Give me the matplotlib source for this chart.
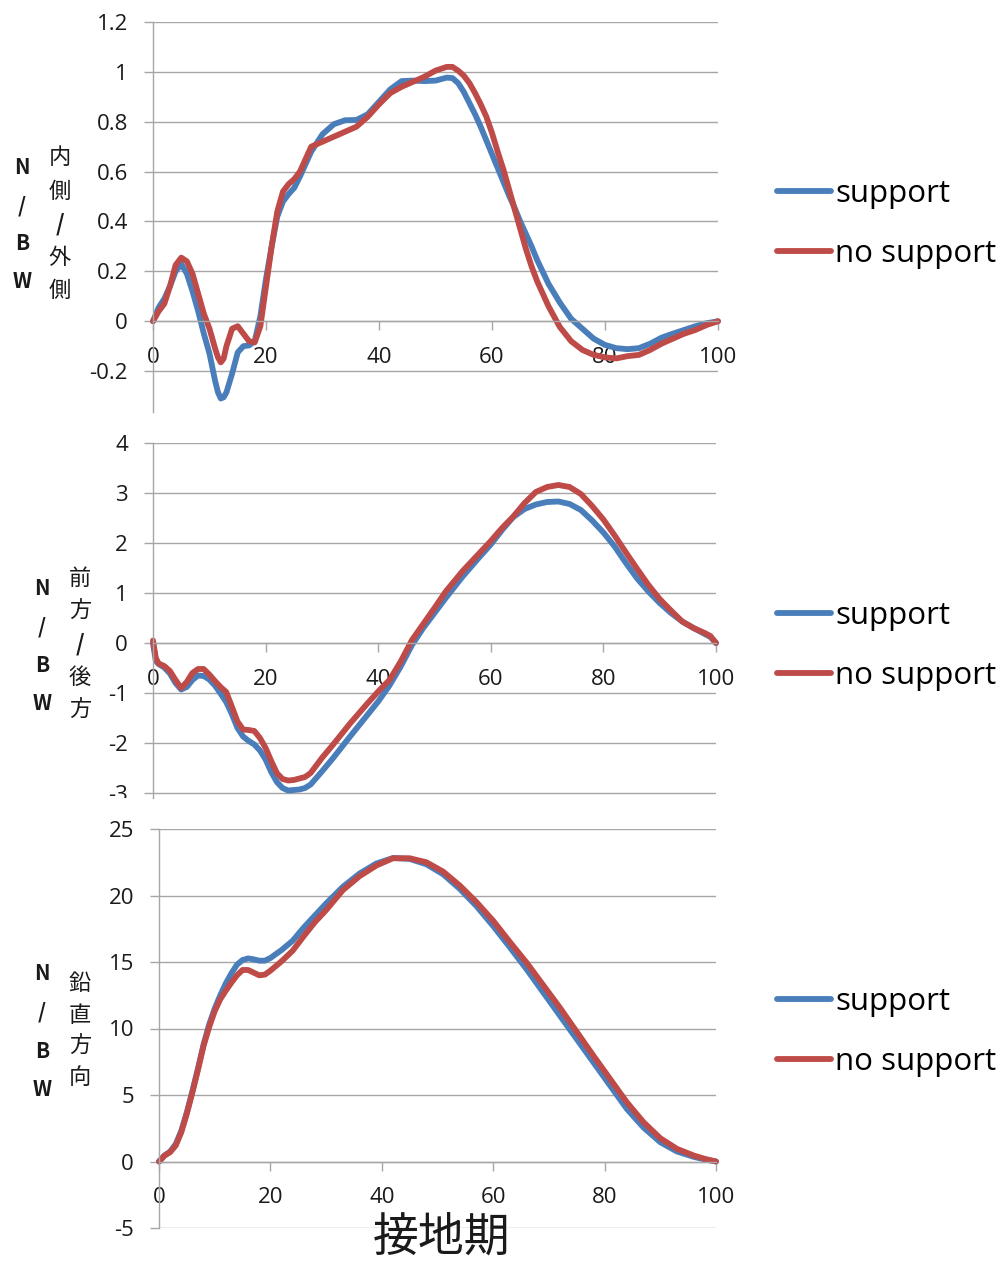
import matplotlib
matplotlib.use("Agg")
import matplotlib.pyplot as plt
from matplotlib.ticker import FixedLocator, FuncFormatter
from matplotlib.transforms import Bbox, TransformedBbox

plt.rcParams['font.family'] = ['Open Sans', 'Noto Sans CJK JP', 'DejaVu Sans']

W, H = 1008, 1264
BLUE = '#4A7EBB'
RED = '#BE4B48'
GRID = '#A6A6A6'
TXT = '#1a1a1a'

SERIES = ['support', 'no support']
X_TICKS = [0, 20, 40, 60, 80, 100]

# --- panel 1: medial / lateral (内側/外側) ---
ml_x = [0, 1, 2, 3, 4, 5, 6, 7, 8, 9, 10, 11, 11.5, 12, 12.5, 13, 14, 15, 16, 17,
        18, 19, 20, 21, 22, 23, 24, 25, 26, 28, 30, 32, 34, 36, 38, 40, 42, 44,
        46, 48, 50, 52, 53, 54, 55, 56, 57, 58, 59, 60, 61, 62, 63, 64, 65, 66,
        67, 68, 70, 72, 74, 76, 78, 80, 82, 84, 86, 88, 90, 92, 94, 96, 98, 100]
ml_support = [0.0, 0.055, 0.09, 0.14, 0.20, 0.23, 0.19, 0.12, 0.04, -0.05,
              -0.13, -0.24, -0.285, -0.31, -0.305, -0.285, -0.21, -0.125, -0.10, -0.097,
              -0.08, 0.02, 0.17, 0.30, 0.42, 0.48, 0.51, 0.535, 0.58, 0.68,
              0.75, 0.79, 0.806, 0.807, 0.83, 0.88, 0.93, 0.963, 0.965, 0.963,
              0.965, 0.977, 0.975, 0.955, 0.92, 0.875, 0.83, 0.78, 0.725, 0.67,
              0.615, 0.56, 0.505, 0.455, 0.40, 0.35, 0.30, 0.245, 0.15, 0.075,
              0.01, -0.03, -0.07, -0.095, -0.108, -0.112, -0.108, -0.09, -0.066, -0.05,
              -0.035, -0.02, -0.008, 0.0]
ml_nosupport = [0.0, 0.04, 0.07, 0.14, 0.225, 0.255, 0.24, 0.19, 0.11, 0.03,
                -0.03, -0.11, -0.145, -0.165, -0.15, -0.10, -0.03, -0.02, -0.05, -0.08,
                -0.085, -0.02, 0.14, 0.30, 0.44, 0.52, 0.55, 0.57, 0.60, 0.70,
                0.72, 0.74, 0.76, 0.78, 0.82, 0.87, 0.915, 0.94, 0.96, 0.98,
                1.005, 1.02, 1.02, 1.005, 0.985, 0.955, 0.915, 0.87, 0.82, 0.755,
                0.68, 0.61, 0.53, 0.45, 0.37, 0.29, 0.22, 0.16, 0.06, -0.023,
                -0.08, -0.115, -0.135, -0.145, -0.149, -0.14, -0.135, -0.115, -0.09, -0.07,
                -0.05, -0.035, -0.015, 0.0]
ml_yticks = [-0.2, 0, 0.2, 0.4, 0.6, 0.8, 1.0, 1.2]

# --- panel 2: anterior / posterior (前方/後方) ---
ap_x = [0, 0.5, 1, 2, 3, 4, 5, 6, 7, 8, 9, 10, 11, 12, 13, 14, 15, 16, 17, 18,
        19, 20, 21, 22, 23, 24, 25, 26, 27, 28, 30, 32, 35, 38, 40, 42, 44, 46,
        48, 50, 52, 55, 58, 60, 62, 64, 66, 68, 70, 72, 74, 76, 78, 80, 82, 84,
        86, 88, 90, 92, 94, 96, 98, 99, 100]
ap_support = [0.0, -0.36, -0.42, -0.49, -0.61, -0.80, -0.93, -0.88, -0.74, -0.65,
              -0.66, -0.73, -0.85, -1.01, -1.18, -1.42, -1.70, -1.87, -1.96, -2.03,
              -2.15, -2.33, -2.58, -2.78, -2.90, -2.95, -2.94, -2.93, -2.90, -2.83,
              -2.57, -2.30, -1.87, -1.45, -1.17, -0.85, -0.47, -0.04, 0.30, 0.60,
              0.90, 1.33, 1.72, 1.97, 2.26, 2.52, 2.68, 2.77, 2.82, 2.83,
              2.78, 2.66, 2.45, 2.21, 1.93, 1.60, 1.29, 1.03, 0.80, 0.60,
              0.43, 0.30, 0.18, 0.12, 0.0]
ap_nosupport = [0.05, -0.30, -0.41, -0.46, -0.56, -0.74, -0.90, -0.78, -0.60, -0.52,
                -0.52, -0.63, -0.76, -0.88, -0.98, -1.27, -1.57, -1.73, -1.74, -1.76,
                -1.90, -2.10, -2.36, -2.60, -2.72, -2.75, -2.74, -2.71, -2.68, -2.60,
                -2.30, -2.03, -1.61, -1.22, -0.97, -0.74, -0.37, 0.06, 0.38, 0.70,
                1.03, 1.44, 1.80, 2.04, 2.30, 2.53, 2.80, 3.02, 3.12, 3.16,
                3.12, 2.98, 2.74, 2.47, 2.15, 1.81, 1.48, 1.16, 0.88, 0.65,
                0.43, 0.30, 0.20, 0.14, 0.0]
ap_yticks = [-3, -2, -1, 0, 1, 2, 3, 4]

# --- panel 3: vertical (鉛直方向) ---
vt_x = [0, 1, 2, 3, 4, 5, 6, 7, 8, 9, 10, 11, 12, 13, 14, 15, 16, 17, 18, 19,
        20, 22, 24, 26, 28, 30, 33, 36, 39, 42, 45, 48, 51, 54, 57, 60, 63, 66,
        69, 72, 75, 78, 81, 84, 87, 90, 93, 96, 98, 100]
vt_support = [0, 0.45, 0.75, 1.3, 2.3, 3.7, 5.3, 7.0, 8.8, 10.3,
              11.5, 12.5, 13.4, 14.15, 14.8, 15.15, 15.27, 15.2, 15.1, 15.1,
              15.3, 15.9, 16.6, 17.6, 18.5, 19.4, 20.65, 21.65, 22.4, 22.82,
              22.75, 22.35, 21.6, 20.5, 19.2, 17.7, 16.1, 14.45, 12.7, 10.95,
              9.2, 7.45, 5.7, 3.95, 2.55, 1.45, 0.75, 0.35, 0.15, 0]
vt_nosupport = [0, 0.45, 0.7, 1.2, 2.2, 3.6, 5.2, 6.9, 8.7, 10.1,
                11.3, 12.2, 12.85, 13.45, 14.0, 14.4, 14.4, 14.2, 14.0, 14.05,
                14.35, 15.05, 15.85, 16.95, 18.0, 18.9, 20.4, 21.45, 22.25, 22.8,
                22.8, 22.5, 21.8, 20.75, 19.5, 18.1, 16.5, 14.95, 13.25, 11.55,
                9.75, 7.95, 6.2, 4.45, 2.95, 1.75, 0.95, 0.45, 0.2, 0]
vt_yticks = [-5, 0, 5, 10, 15, 20, 25]

fig = plt.figure(figsize=(W / 100, H / 100), dpi=100)


def px_axes(left, right, top, bottom):
    return fig.add_axes([left / W, 1 - bottom / H, (right - left) / W, (bottom - top) / H])


def style(ax, ylim, yticks):
    ax.set_xlim(0, 100)
    ax.set_ylim(*ylim)
    ax.xaxis.set_major_locator(FixedLocator(X_TICKS))
    ax.yaxis.set_major_locator(FixedLocator(yticks))
    fmt = FuncFormatter(lambda v, p: f"{v:g}")
    ax.xaxis.set_major_formatter(fmt)
    ax.yaxis.set_major_formatter(fmt)
    for s in ['top', 'right']:
        ax.spines[s].set_visible(False)
    ax.spines['left'].set_position(('data', 0))
    ax.spines['bottom'].set_position(('data', 0))
    for s in ['left', 'bottom']:
        ax.spines[s].set_color(GRID)
        ax.spines[s].set_linewidth(1.0)
    ax.tick_params(axis='y', direction='out', length=6.5, width=1.0, color=GRID,
                   pad=11.5, labelsize=16, labelcolor=TXT)
    ax.tick_params(axis='x', direction='out', length=6.5, width=1.0, color=GRID,
                   pad=12, labelsize=16, labelcolor=TXT)
    ax.yaxis.grid(True, color=GRID, lw=1.0)
    ax.set_axisbelow(True)


def draw(ax, x, s1, s2, legend_y):
    ax.plot(x, s1, color=BLUE, lw=4.2, solid_capstyle='round',
            solid_joinstyle='round', clip_on=False, label=SERIES[0])
    ax.plot(x, s2, color=RED, lw=4.2, solid_capstyle='round',
            solid_joinstyle='round', clip_on=False, label=SERIES[1])
    ax.legend(loc='center left', bbox_to_anchor=(777 / W, 1 - legend_y / H),
              bbox_transform=fig.transFigure, frameon=False, fontsize=22.5,
              handlelength=1.72, handletextpad=0.15, labelspacing=0.98,
              borderpad=0, borderaxespad=0)


def stack(x, y0, step, chars, bold_all=False, size=16):
    for i, ch in enumerate(chars):
        bold = bold_all or ch == '/'
        fig.text(x / W, 1 - (y0 + i * step) / H, ch, ha='center', va='center',
                 fontsize=size if not bold_all else 15,
                 fontweight='bold' if bold else 'normal', color=TXT,
                 family=['Noto Sans CJK JP', 'DejaVu Sans'])


ax1 = px_axes(153, 718, 22, 412)
style(ax1, (-0.364, 1.2), ml_yticks)
draw(ax1, ml_x, ml_support, ml_nosupport, 224)

ax2 = px_axes(153, 716, 443, 798)
style(ax2, (-3.1, 4), ap_yticks)
draw(ax2, ap_x, ap_support, ap_nosupport, 646)

ax3 = px_axes(159, 716, 829, 1228)
style(ax3, (-5, 25), vt_yticks)
draw(ax3, vt_x, vt_support, vt_nosupport, 1032)

# Excel cuts the lowest tick label of the middle chart at the chart edge
clip = TransformedBbox(Bbox([[0, 1 - 798 / H], [1, 1]]), fig.transFigure)
for lab in ax2.get_yticklabels():
    lab.set_clip_box(clip)
    lab.set_clip_on(True)

# axis titles, stacked vertically
stack(22, 168, 38, 'N/BW', bold_all=True)
stack(60, 158, 33, '内側/外側')
stack(42, 589, 38, 'N/BW', bold_all=True)
stack(80, 578, 33, '前方/後方')
stack(42, 974, 38.5, 'N/BW', bold_all=True)
stack(80, 984, 31, '鉛直方向')

fig.text(442 / W, 1 - 1238 / H, '接地期', ha='center', va='center', fontsize=33,
         color=TXT, family=['Noto Sans CJK JP', 'DejaVu Sans'])

fig.savefig('out.png', dpi=100)
